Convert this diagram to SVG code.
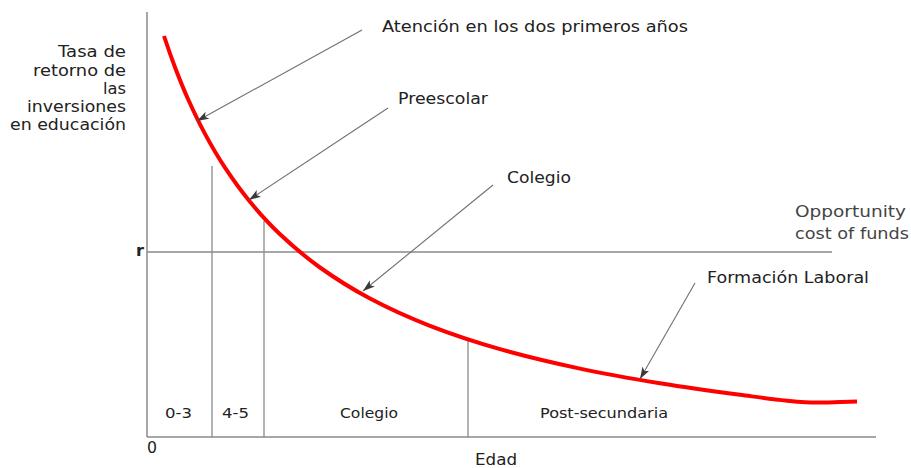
<svg xmlns="http://www.w3.org/2000/svg" width="911" height="468" viewBox="0 0 911 468">
  <style>
    text { font-family: "DejaVu Sans", Verdana, sans-serif; fill: #222; }
    .lbl { font-size: 15px; }
    .sm { font-size: 14px; }
    .opp { font-size: 16.5px; fill: #444; }
    .axis { stroke: #8a8a8a; stroke-width: 1.5; fill: none; }
    .grid { stroke: #8a8a8a; stroke-width: 1.3; fill: none; }
    .arrow { stroke: #707070; stroke-width: 1.1; fill: none; marker-end: url(#ah); }
    .curve { stroke: #ff0000; stroke-width: 4; fill: none; stroke-linecap: butt; stroke-linejoin: round; }
  </style>
  <defs>
    <marker id="ah" markerUnits="userSpaceOnUse" markerWidth="14" markerHeight="10" refX="12" refY="4" orient="auto">
      <path d="M0,0 L12,4 L0,8 L3,4 z" fill="#3a3a3a"/>
    </marker>
  </defs>
  <rect width="911" height="468" fill="#ffffff"/>

  <g id="axes">
    <line class="axis" x1="147" y1="12" x2="147" y2="437"/>
    <line class="axis" x1="147" y1="437" x2="876" y2="437"/>
    <line class="grid" x1="147" y1="252" x2="832" y2="252"/>
    <line class="grid" x1="212" y1="166" x2="212" y2="437"/>
    <line class="grid" x1="264" y1="221" x2="264" y2="437"/>
    <line class="grid" x1="468" y1="341" x2="468" y2="437"/>
  </g>

  <g id="y-label">
    <text class="lbl" x="58" y="57" textLength="68" lengthAdjust="spacingAndGlyphs">Tasa de</text>
    <text class="lbl" x="33" y="75.5" textLength="93" lengthAdjust="spacingAndGlyphs">retorno de</text>
    <text class="lbl" x="103" y="94" textLength="23" lengthAdjust="spacingAndGlyphs">las</text>
    <text class="lbl" x="27" y="112" textLength="99" lengthAdjust="spacingAndGlyphs">inversiones</text>
    <text class="lbl" x="10" y="130" textLength="116" lengthAdjust="spacingAndGlyphs">en educación</text>
  </g>
  <g id="r-label">
    <text x="136" y="256" style="font-size:15px;font-weight:bold" textLength="8" lengthAdjust="spacingAndGlyphs">r</text>
  </g>
  <g id="origin">
    <text class="lbl" x="147" y="453" textLength="10" lengthAdjust="spacingAndGlyphs">0</text>
  </g>
  <g id="x-label">
    <text class="lbl" x="475" y="465" textLength="42" lengthAdjust="spacingAndGlyphs">Edad</text>
  </g>
  <g id="opportunity">
    <text class="opp" x="795" y="217" textLength="111" lengthAdjust="spacingAndGlyphs">Opportunity</text>
    <text class="opp" x="795" y="239" textLength="114" lengthAdjust="spacingAndGlyphs">cost of funds</text>
  </g>

  <g id="band-labels">
    <text class="sm" x="165" y="418" textLength="27" lengthAdjust="spacingAndGlyphs">0-3</text>
    <text class="sm" x="222" y="418" textLength="27" lengthAdjust="spacingAndGlyphs">4-5</text>
    <text class="sm" x="340" y="418" textLength="58" lengthAdjust="spacingAndGlyphs">Colegio</text>
    <text class="sm" x="540" y="418" textLength="128" lengthAdjust="spacingAndGlyphs">Post-secundaria</text>
  </g>

  <g id="curve">
    <path class="curve" d="M164,36 C167.67,47.18 171,56.7 175,67.2 C179,77.7 183,87.88 188,99 C193,110.12 198.83,122.45 205,133.9 C211.17,145.35 217.5,156.38 225,167.7 C232.5,179.02 240.83,190.72 250,201.8 C259.17,212.88 268.33,223.25 280,234.2 C291.67,245.15 305,256.78 320,267.5 C335,278.22 351.67,288.78 370,298.5 C388.33,308.22 408.33,317.37 430,325.8 C451.67,334.23 475,341.97 500,349.1 C525,356.23 553.33,362.9 580,368.6 C606.67,374.3 633.33,378.93 660,383.3 C686.67,387.67 715.83,391.65 740,394.8 C764.17,397.95 785.5,401.08 805,402.2 C824.5,403.32 839.67,401.73 857,401.5"/>
  </g>

  <g id="callout-labels">
    <text class="lbl" x="382" y="32" textLength="306" lengthAdjust="spacingAndGlyphs">Atención en los dos primeros años</text>
    <text class="lbl" x="398" y="104" textLength="90" lengthAdjust="spacingAndGlyphs">Preescolar</text>
    <text class="lbl" x="507" y="183" textLength="64" lengthAdjust="spacingAndGlyphs">Colegio</text>
    <text class="lbl" x="707" y="283" textLength="162" lengthAdjust="spacingAndGlyphs">Formación Laboral</text>
  </g>

  <g id="connectors">
    <line class="arrow" x1="362" y1="30" x2="197" y2="121"/>
    <line class="arrow" x1="388" y1="108" x2="249" y2="200"/>
    <line class="arrow" x1="493" y1="185" x2="363" y2="291"/>
    <line class="arrow" x1="695" y1="283" x2="640" y2="379"/>
  </g>
</svg>
